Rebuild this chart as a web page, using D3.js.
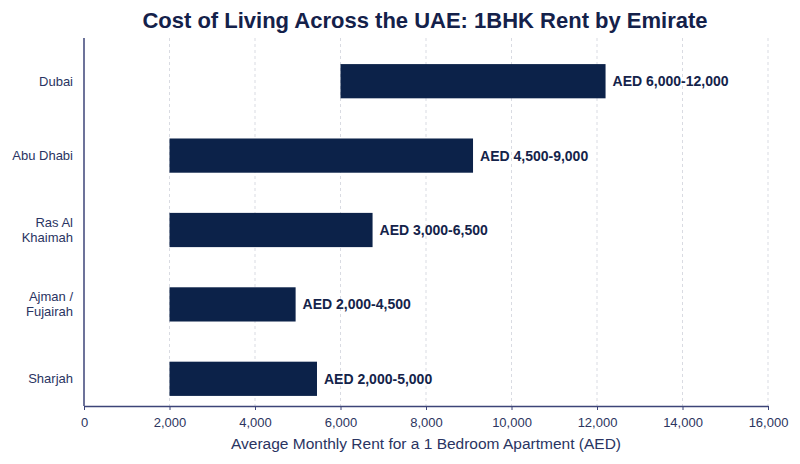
<!DOCTYPE html>
<html>
<head>
<meta charset="utf-8">
<script src="https://cdn.jsdelivr.net/npm/d3@7"></script>
<style>
  body { margin: 0; background: #fff; }
  svg { font-family: "Liberation Sans", Arial, sans-serif; }
</style>
</head>
<body>
<svg id="chart"></svg>
<script>
// DATA
const emirates = [["Dubai"], ["Abu Dhabi"], ["Ras Al", "Khaimah"], ["Ajman /", "Fujairah"], ["Sharjah"]];
const rentLow = [6000, 2000, 2000, 2000, 2000];
const rentHigh = [12200, 9100, 6750, 4950, 5450];
const rangeLabels = ["AED 6,000-12,000", "AED 4,500-9,000", "AED 3,000-6,500", "AED 2,000-4,500", "AED 2,000-5,000"];
const xTicks = [0, 2000, 4000, 6000, 8000, 10000, 12000, 14000, 16000];

const data = emirates.map((e, i) => ({
  name: e.join(" "), lines: e, low: rentLow[i], high: rentHigh[i], label: rangeLabels[i]
}));

const margin = { top: 38, right: 32, bottom: 58, left: 84 };
const width = 800 - margin.left - margin.right;
const height = 464 - margin.top - margin.bottom;

const svg = d3.select("#chart")
  .attr("width", width + margin.left + margin.right)
  .attr("height", height + margin.top + margin.bottom);

const g = svg.append("g")
  .attr("transform", `translate(${margin.left}, ${margin.top})`);

// SCALES
const x = d3.scaleLinear().domain([0, 16000]).range([0, width]);
const y = d3.scaleBand()
  .domain(data.map(d => d.name))
  .range([6, height + 10])
  .paddingInner(0.54)
  .paddingOuter(0.27);

// GRID
g.selectAll(".grid")
  .data(xTicks.slice(1))
  .enter()
  .append("line")
  .attr("x1", d => x(d)).attr("x2", d => x(d))
  .attr("y1", 0).attr("y2", height)
  .attr("stroke", "#d9dbe2")
  .attr("stroke-width", 1)
  .attr("stroke-dasharray", "3,3");

// BARS
g.selectAll("rect")
  .data(data)
  .enter()
  .append("rect")
  .attr("x", d => x(d.low))
  .attr("y", d => y(d.name))
  .attr("width", d => x(d.high) - x(d.low))
  .attr("height", y.bandwidth())
  .attr("fill", "#0c2249");

// BAR LABELS
g.selectAll(".lbl")
  .data(data)
  .enter()
  .append("text")
  .attr("x", d => x(d.high) + 7)
  .attr("y", d => y(d.name) + y.bandwidth() / 2)
  .attr("dy", "0.35em")
  .style("font-size", "14px")
  .style("font-weight", "bold")
  .attr("fill", "#14234a")
  .text(d => d.label);

// AXES
const xAxis = g.append("g")
  .attr("transform", `translate(0, ${height})`)
  .call(d3.axisBottom(x).tickValues(xTicks).tickFormat(d3.format(",")).tickSize(4).tickSizeOuter(0));
xAxis.select(".domain").attr("stroke", "#3c4478").attr("stroke-width", 1.5);
xAxis.selectAll(".tick line").attr("stroke", "#3c4478");
xAxis.selectAll("text")
  .attr("fill", "#2c3560")
  .style("font-size", "13px")
  .attr("dy", "1.1em");

g.append("line")
  .attr("x1", 0).attr("x2", 0)
  .attr("y1", 0).attr("y2", height)
  .attr("stroke", "#3c4478")
  .attr("stroke-width", 1.5);

// CATEGORY LABELS
const cat = g.selectAll(".cat")
  .data(data)
  .enter()
  .append("text")
  .attr("text-anchor", "end")
  .attr("fill", "#2a3462")
  .style("font-size", "13px")
  .attr("transform", d => `translate(-11, ${y(d.name) + y.bandwidth() / 2})`);
cat.selectAll("tspan")
  .data(d => d.lines.map((t, i) => ({ t, i, n: d.lines.length })))
  .enter()
  .append("tspan")
  .attr("x", 0)
  .attr("y", d => (d.i - (d.n - 1) / 2) * 15)
  .attr("dy", "0.35em")
  .text(d => d.t);

// AXIS TITLE
g.append("text")
  .attr("x", width / 2)
  .attr("y", height + 43)
  .attr("text-anchor", "middle")
  .attr("fill", "#2a3462")
  .style("font-size", "15.5px")
  .text("Average Monthly Rent for a 1 Bedroom Apartment (AED)");

// TITLE
svg.append("text")
  .attr("x", 425)
  .attr("y", 28)
  .attr("text-anchor", "middle")
  .attr("fill", "#14214a")
  .style("font-size", "22px")
  .style("font-weight", "bold")
  .text("Cost of Living Across the UAE: 1BHK Rent by Emirate");
</script>
</body>
</html>
